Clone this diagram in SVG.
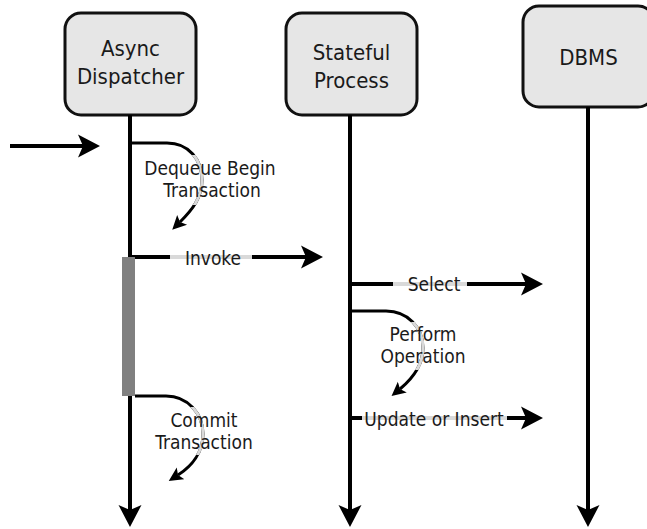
<svg xmlns="http://www.w3.org/2000/svg" width="647" height="529" viewBox="0 0 647 529">
<style>
.box{fill:#e6e6e6;stroke:#111;stroke-width:3}
.title{font-family:"DejaVu Sans Condensed","DejaVu Sans",sans-serif;font-stretch:condensed;font-size:22px;fill:#1a1a1a;text-anchor:middle}
.lbl{font-family:"DejaVu Sans Condensed","DejaVu Sans",sans-serif;font-stretch:condensed;font-size:19px;fill:#1a1a1a;text-anchor:middle}
.life{stroke:#000;stroke-width:4;fill:none}
.msg{stroke:#000;stroke-width:4;fill:none}
.fade{stroke:#d9d9d9;stroke-width:4;fill:none}
.curve{stroke:#000;stroke-width:3;fill:none}
.curvefade{stroke:#d9d9d9;stroke-width:3;fill:none}
</style>
<defs>
<marker id="big" markerUnits="userSpaceOnUse" viewBox="0 -12 24 24" markerWidth="24" markerHeight="24" refX="5" refY="0" orient="auto">
<path d="M0,-11.5 L22,0 L0,11.5 L5,0 Z" fill="#000"/>
</marker>
<marker id="small" markerUnits="userSpaceOnUse" viewBox="0 -8 16 16" markerWidth="16" markerHeight="16" refX="3" refY="0" orient="auto">
<path d="M0,-7 L14,0 L0,7 L3,0 Z" fill="#000"/>
</marker>
<clipPath id="c1"><rect x="140" y="155" width="140" height="50"/></clipPath>
<clipPath id="c2"><rect x="150" y="407" width="110" height="48"/></clipPath>
<clipPath id="c3"><rect x="375" y="322" width="100" height="48"/></clipPath>
</defs>

<g id="async-dispatcher">
<rect class="box" x="65" y="13" width="131" height="102" rx="16"/>
<text class="title" x="130.5" y="56">Async</text>
<text class="title" x="130.5" y="84">Dispatcher</text>
</g>
<g id="stateful-process">
<rect class="box" x="286" y="13" width="131" height="102" rx="16"/>
<text class="title" x="351.5" y="60">Stateful</text>
<text class="title" x="351.5" y="88">Process</text>
</g>
<g id="dbms">
<rect class="box" x="523" y="6" width="131" height="101" rx="16"/>
<text class="title" x="588.5" y="65">DBMS</text>
</g>

<g id="connectors">
<line class="life" x1="130" y1="115" x2="130" y2="510" marker-end="url(#big)"/>
<line class="life" x1="350" y1="115" x2="350" y2="510" marker-end="url(#big)"/>
<line class="life" x1="588" y1="107" x2="588" y2="510" marker-end="url(#big)"/>

<line class="msg" x1="10" y1="146" x2="83" y2="146" marker-end="url(#big)"/>

<path class="curve" d="M130,143 H167 C189,143 202,160 202,180 C202,198 192,210 180,222" marker-end="url(#small)"/>
<path class="curvefade" clip-path="url(#c1)" d="M130,143 H167 C189,143 202,160 202,180 C202,198 192,210 180,222"/>

<line class="msg" x1="130" y1="257" x2="306" y2="257" marker-end="url(#big)"/>
<line class="fade" x1="170" y1="257" x2="252" y2="257"/>

<line class="msg" x1="350" y1="284" x2="526" y2="284" marker-end="url(#big)"/>
<line class="fade" x1="393" y1="284" x2="467" y2="284"/>

<path class="curve" d="M350,311 H386 C408,311 423,328 423,348 C423,366 412,379 400,389" marker-end="url(#small)"/>
<path class="curvefade" clip-path="url(#c3)" d="M350,311 H386 C408,311 423,328 423,348 C423,366 412,379 400,389"/>

<line class="msg" x1="350" y1="418" x2="526" y2="418" marker-end="url(#big)"/>
<line class="fade" x1="362" y1="418" x2="507" y2="418"/>

<path class="curve" d="M135,396 H166 C188,396 203,414 203,434 C203,452 192,466 178,475" marker-end="url(#small)"/>
<path class="curvefade" clip-path="url(#c2)" d="M135,396 H166 C188,396 203,414 203,434 C203,452 192,466 178,475"/>
</g>

<g id="activation">
<rect x="122" y="257" width="13" height="139" fill="#808080"/>
</g>

<g id="labels">
<text class="lbl" x="210" y="175">Dequeue Begin</text>
<text class="lbl" x="212" y="197">Transaction</text>
<text class="lbl" x="213" y="265">Invoke</text>
<text class="lbl" x="434" y="291">Select</text>
<text class="lbl" x="423" y="341">Perform</text>
<text class="lbl" x="423" y="363">Operation</text>
<text class="lbl" x="434" y="426">Update or Insert</text>
<text class="lbl" x="204" y="427">Commit</text>
<text class="lbl" x="204" y="449">Transaction</text>
</g>
</svg>
